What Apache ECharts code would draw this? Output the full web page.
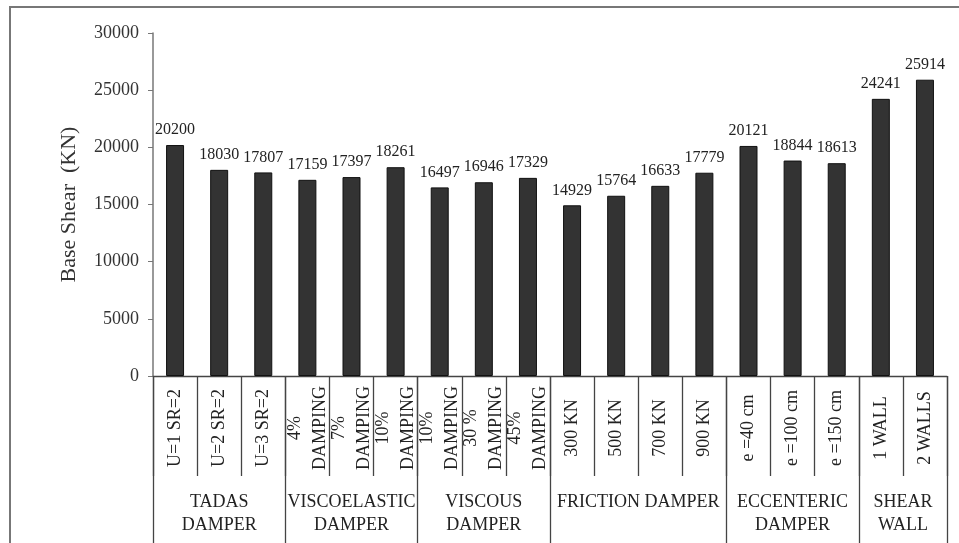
<!DOCTYPE html>
<html>
<head>
<meta charset="utf-8">
<script src="https://cdn.jsdelivr.net/npm/echarts@6/dist/echarts.min.js"></script>
<style>
  html, body { margin: 0; padding: 0; background: #fff; }
  #chart { width: 959px; height: 543px; }
  #frame { position: absolute; left: 9px; top: 6px; width: 960px; height: 560px;
           border-top: 2px solid #777; border-left: 2px solid #777; pointer-events: none; }
</style>
</head>
<body>
<div id="chart"></div>
<div id="frame"></div>
<script>
// sub categories (one per bar)
const categories = [
    'U=1 SR=2', 'U=2 SR=2', 'U=3 SR=2',
    '4%\nDAMPING', '7%\nDAMPING', '10%\nDAMPING',
    '10%\nDAMPING', '30 %\nDAMPING', '45%\nDAMPING',
    '300 KN', '500 KN', '700 KN', '900 KN',
    'e =40 cm', 'e =100 cm', 'e =150 cm',
    '1 WALL', '2 WALLS'
];
const baseShear = [20200, 18030, 17807, 17159, 17397, 18261, 16497, 16946, 17329,
    14929, 15764, 16633, 17779, 20121, 18844, 18613, 24241, 25914];

// groups under the sub categories
const groupNames = ['TADAS\nDAMPER', 'VISCOELASTIC\nDAMPER', 'VISCOUS\nDAMPER',
    'FRICTION DAMPER', 'ECCENTERIC\nDAMPER', 'SHEAR\nWALL'];
const groupSizes = [3, 3, 3, 4, 3, 2];

const yTicks = { min: 0, max: 30000, interval: 5000 };

// half-slot axis for the group row: 2 points per bar + 1
const groupSlots = [];
const groupBounds = [0];
const groupCenters = {};
let pos = 0;
groupSizes.forEach((n, i) => {
    groupCenters[pos + n] = groupNames[i];
    pos += 2 * n;
    groupBounds.push(pos);
});
for (let k = 0; k <= pos; k++) groupSlots.push(groupCenters[k] || '');

const serif = '"Liberation Serif", "DejaVu Serif", serif';

let chartDom = document.getElementById('chart');
let myChart = echarts.init(chartDom);
let option;

option = {
    animation: false,
    grid: { left: 153, right: 12, top: 33, bottom: 167 },
    xAxis: [
        {
            type: 'category',
            data: categories,
            position: 'bottom',
            axisLine: { lineStyle: { color: '#444', width: 1.3 } },
            axisTick: { show: true, interval: 0, length: 100, lineStyle: { color: '#444', width: 1.3 } },
            axisLabel: {
                interval: 0,
                rotate: 90,
                align: 'center',
                verticalAlign: 'middle',
                margin: 52,
                fontFamily: serif,
                fontSize: 18,
                lineHeight: 25,
                color: '#222'
            }
        },
        {
            type: 'category',
            data: groupSlots,
            position: 'bottom',
            boundaryGap: false,
            axisLine: { show: false },
            axisTick: {
                show: true,
                length: 170,
                interval: (idx) => groupBounds.includes(idx),
                lineStyle: { color: '#444', width: 1.3 }
            },
            axisLabel: {
                interval: (idx, val) => val !== '',
                margin: 115,
                fontFamily: serif,
                fontSize: 18,
                lineHeight: 23,
                color: '#222'
            }
        }
    ],
    yAxis: {
        type: 'value',
        min: yTicks.min,
        max: yTicks.max,
        interval: yTicks.interval,
        name: 'Base Shear  (KN)',
        nameLocation: 'middle',
        nameGap: 73,
        nameTextStyle: { fontFamily: serif, fontSize: 22, color: '#333' },
        axisLine: { show: true, lineStyle: { color: '#777', width: 1.5 } },
        axisTick: { show: true, length: 5, lineStyle: { color: '#777' } },
        splitLine: { show: false },
        axisLabel: {
            fontFamily: serif,
            fontSize: 18,
            color: '#333',
            margin: 14,
            formatter: (v) => String(v)
        }
    },
    series: [
        {
            type: 'bar',
            data: baseShear,
            barWidth: 18,
            itemStyle: { color: '#333333', borderColor: '#111', borderWidth: 1 },
            label: {
                show: true,
                position: 'top',
                distance: 7,
                fontFamily: serif,
                fontSize: 16,
                color: '#222'
            }
        }
    ]
};

option && myChart.setOption(option);
</script>
</body>
</html>
